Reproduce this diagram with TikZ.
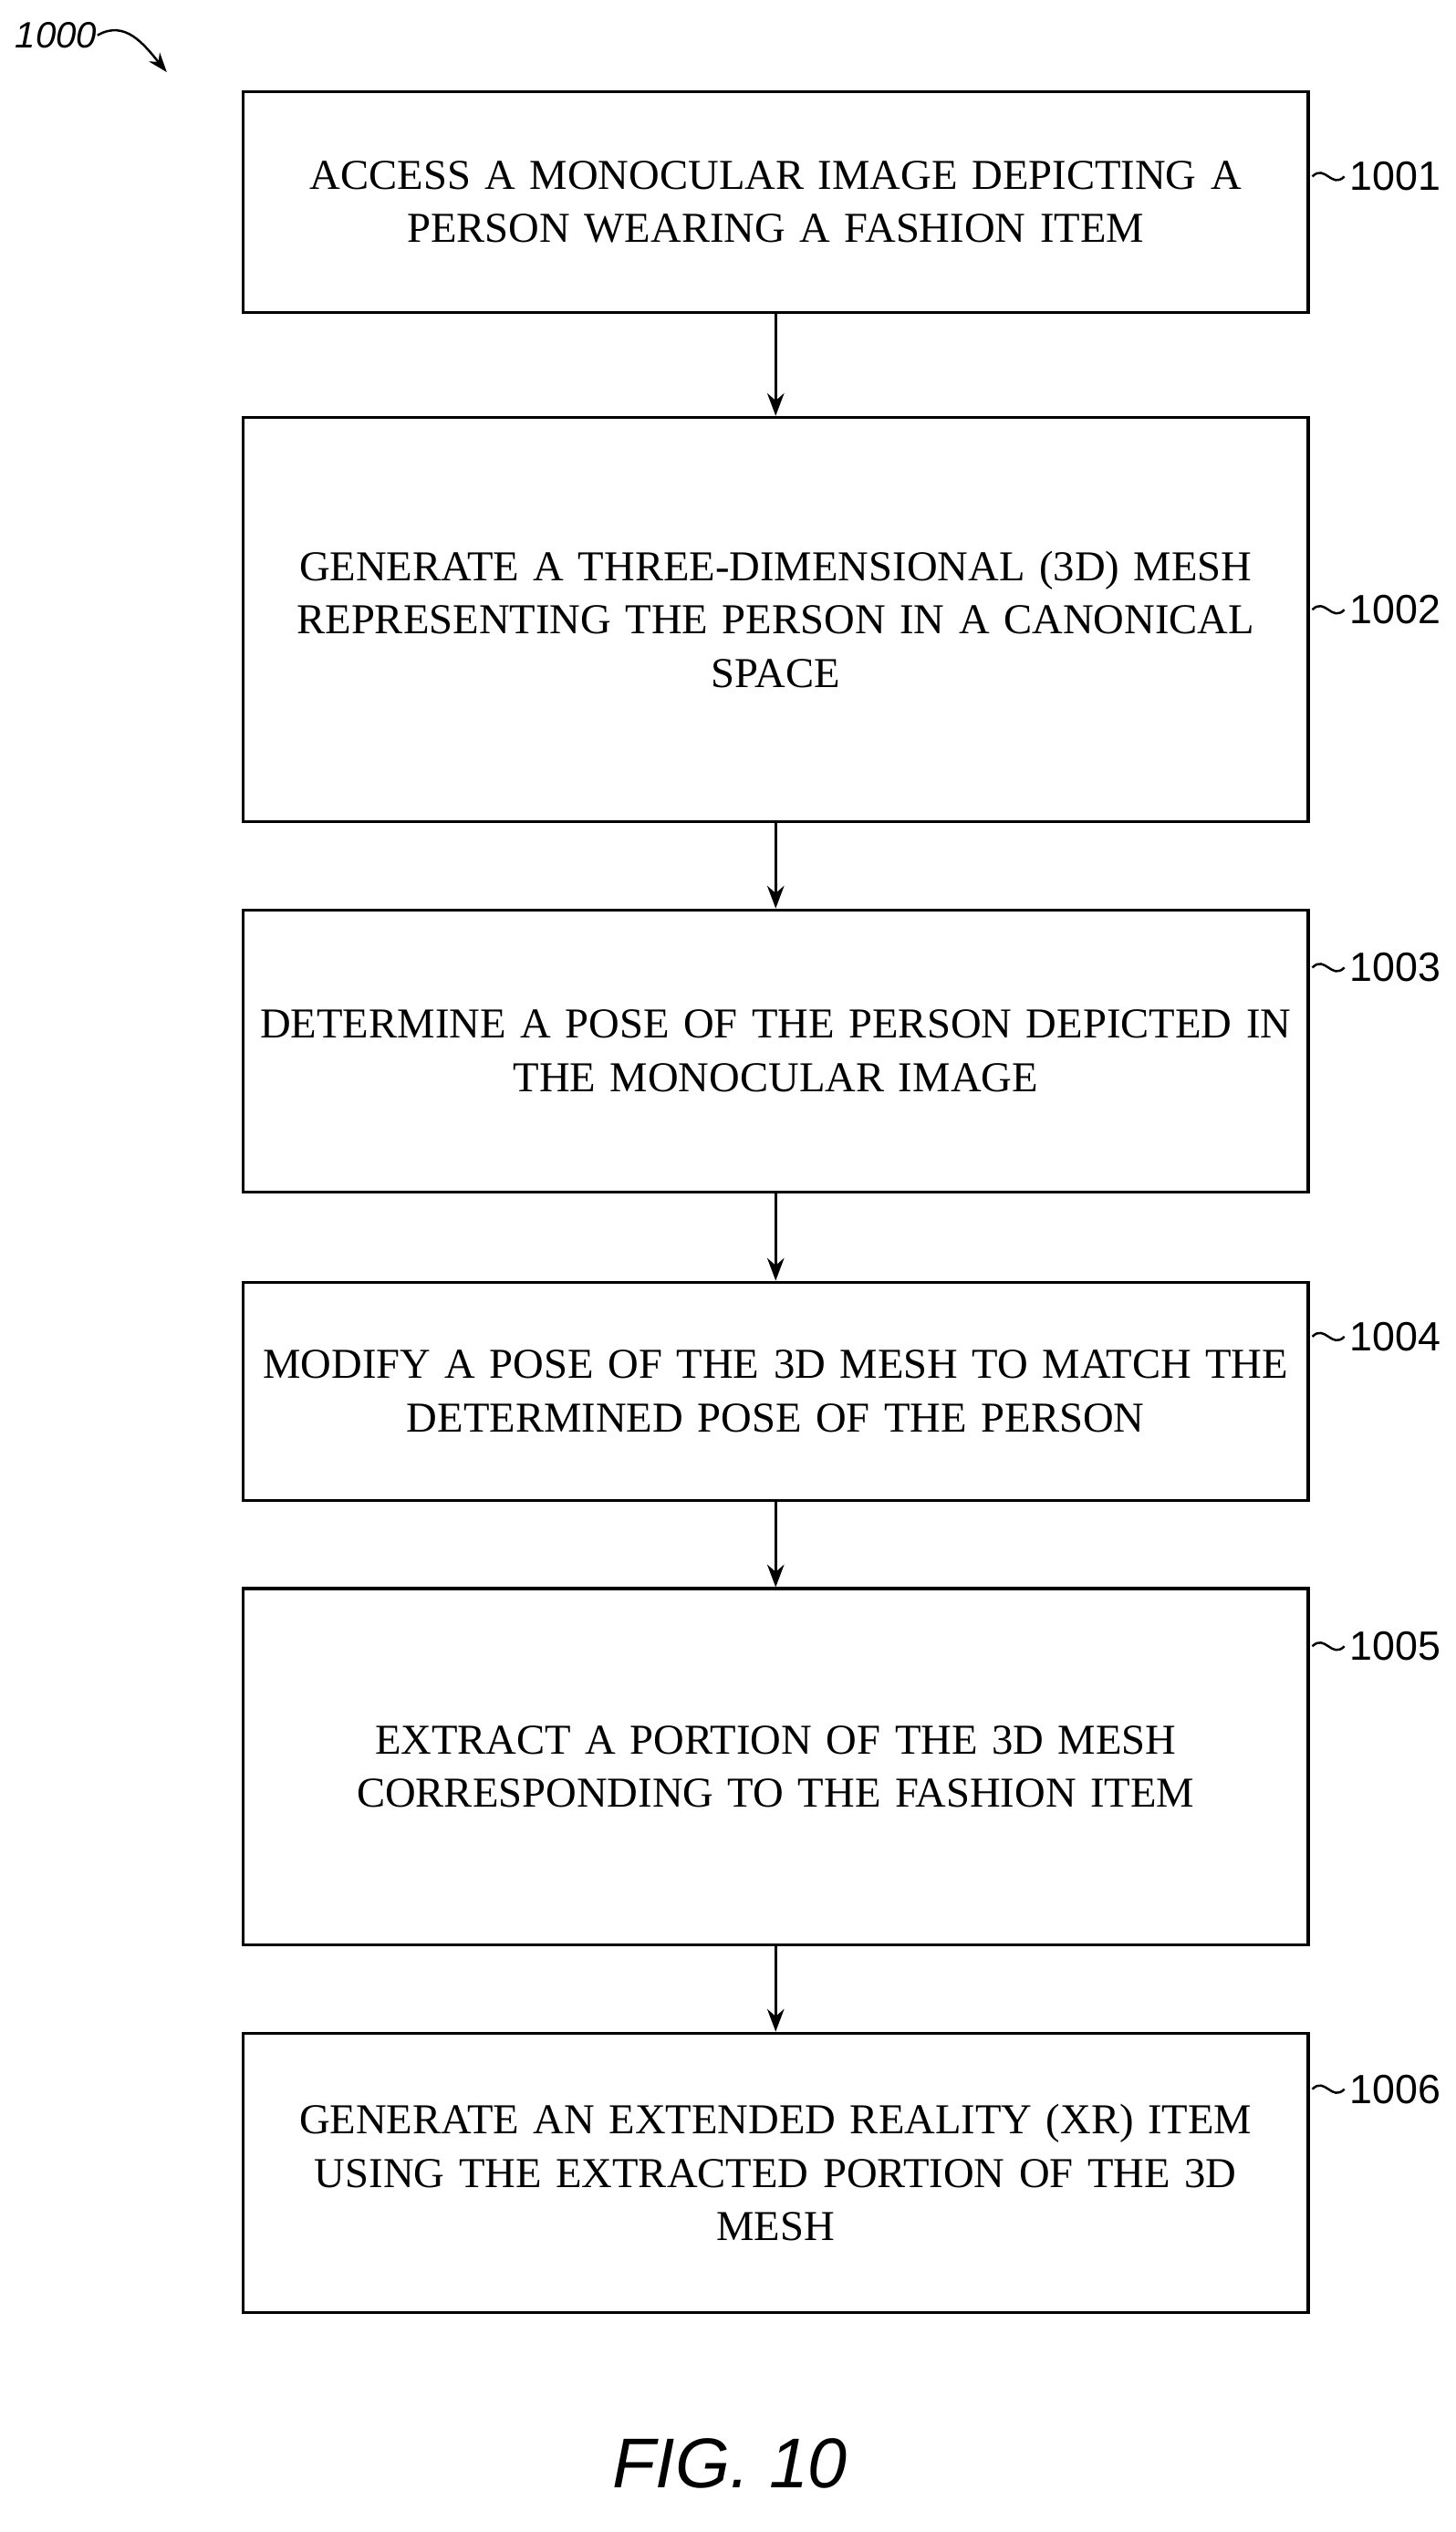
\documentclass[tikz,border=0pt]{standalone}
\usepackage{fontspec}
\setmainfont{Liberation Serif}
\newfontfamily\labelfont{Liberation Sans}
\usetikzlibrary{arrows.meta}
\tikzset{
  stepbox/.style={draw, line width=1pt, minimum width=13.28cm, text width=13cm, align=center,
    font=\fontsize{15.1}{18.9}\selectfont},
  flow/.style={-{Stealth[length=8pt,width=6pt]}, line width=1pt},
  tag/.style={font=\labelfont\fontsize{14.5}{16}\selectfont, anchor=west, inner sep=0pt},
  squiggle/.style={line width=0.8pt}
}
\begin{document}
\begin{tikzpicture}[x=0.02cm,y=-0.02cm]
    \useasboundingbox (0,0) rectangle (907,1578);
    % steps
    \node[stepbox, minimum height=2.76cm] (s1) at (483.5,126) {ACCESS A MONOCULAR IMAGE DEPICTING A\\PERSON WEARING A FASHION ITEM};
    \node[stepbox, minimum height=5.04cm] (s2) at (483.5,386) {GENERATE A THREE-DIMENSIONAL (3D) MESH\\REPRESENTING THE PERSON IN A CANONICAL\\SPACE};
    \node[stepbox, minimum height=3.52cm] (s3) at (483.5,655) {DETERMINE A POSE OF THE PERSON DEPICTED IN\\THE MONOCULAR IMAGE};
    \node[stepbox, minimum height=2.72cm] (s4) at (483.5,867) {MODIFY A POSE OF THE 3D MESH TO MATCH THE\\DETERMINED POSE OF THE PERSON};
    \node[stepbox, minimum height=4.44cm] (s5) at (483.5,1101) {EXTRACT A PORTION OF THE 3D MESH\\CORRESPONDING TO THE FASHION ITEM};
    \node[stepbox, minimum height=3.48cm] (s6) at (483.5,1354) {GENERATE AN EXTENDED REALITY (XR) ITEM\\USING THE EXTRACTED PORTION OF THE 3D\\MESH};
    % arrows
    \foreach \a/\b in {s1/s2,s2/s3,s3/s4,s4/s5,s5/s6}
        \draw[flow] (\a.south) -- (\b.north);
    % reference numerals
    \foreach \n/\y in {1/110,2/380,3/603,4/833,5/1026,6/1302}{
        \draw[squiggle] (818,\y) .. controls (826,\y-8) and (830,\y+8) .. (838,\y);
        \node[tag] (t\n) at (841,\y) {100\n};
    }
    % figure number
    \node[font=\labelfont\itshape\fontsize{13}{15}\selectfont, inner sep=0pt] (fig) at (35,22) {1000};
    \coordinate (figend) at (104,45);
    \draw[squiggle, -{Stealth[length=7pt,width=5pt]}] (fig.east) .. controls (78,12) and (90,28) .. (figend);
    \node[font=\labelfont\itshape\fontsize{25}{28}\selectfont] (cap) at (455,1535) {FIG. 10};
\end{tikzpicture}
\end{document}
